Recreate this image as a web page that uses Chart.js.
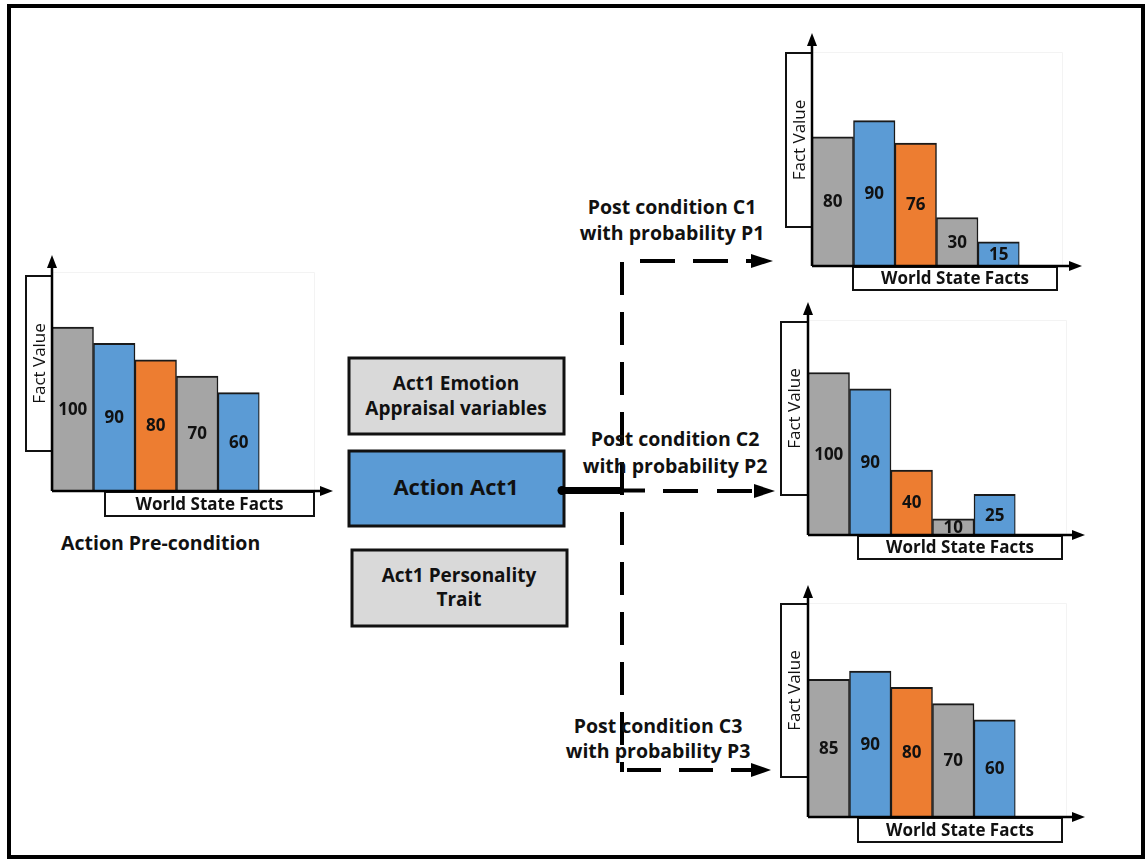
<!DOCTYPE html>
<html>
<head>
<meta charset="utf-8">
<script src="https://cdn.jsdelivr.net/npm/chart.js@4/dist/chart.umd.min.js"></script>
<style>
  html, body { margin: 0; padding: 0; background: #fff; }
  #page { position: relative; width: 1146px; height: 861px; overflow: hidden; font-family: "Open Sans", sans-serif; }
  #page svg { position: absolute; left: 0; top: 0; }
  #page canvas { position: absolute; }
  .lbl { font-family: "Open Sans", sans-serif; font-weight: 700; font-size: 19px; fill: #111; }
  .post { font-size: 19.5px; }
</style>
</head>
<body>
<div id="page">
  <svg width="1146" height="861">
    <!-- outer frame -->
    <rect x="9" y="6" width="1134" height="851" fill="none" stroke="#000" stroke-width="4"/>

    <text class="lbl" x="61" y="550" style="font-size:19.5px">Action Pre-condition</text>

    <!-- middle boxes -->
    <rect x="349" y="358" width="215" height="76" fill="#d9d9d9" stroke="#111" stroke-width="3"/>
    <text class="lbl" x="456" y="390" text-anchor="middle">Act1 Emotion</text>
    <text class="lbl" x="456" y="415" text-anchor="middle">Appraisal variables</text>

    <rect x="349" y="451" width="215" height="75" fill="#5b9bd5" stroke="#111" stroke-width="3"/>
    <text class="lbl" x="456" y="495" text-anchor="middle" style="font-size:22px">Action Act1</text>

    <rect x="352" y="550" width="215" height="76" fill="#d9d9d9" stroke="#111" stroke-width="3"/>
    <text class="lbl" x="459" y="582" text-anchor="middle">Act1 Personality</text>
    <text class="lbl" x="459" y="606" text-anchor="middle">Trait</text>

    <!-- connector from the action box -->
    <circle cx="562" cy="490.5" r="4.5" fill="#000"/>
    <line x1="562" y1="490.5" x2="621" y2="490.5" stroke="#000" stroke-width="7"/>
    <line x1="621" y1="490.5" x2="645" y2="490.5" stroke="#000" stroke-width="4"/>

    <!-- vertical dashed trunk -->
    <line x1="622" y1="262" x2="622" y2="772" stroke="#000" stroke-width="4" stroke-dasharray="33 17"/>

    <!-- branch arrows -->
    <line x1="640" y1="261" x2="752" y2="261" stroke="#000" stroke-width="4" stroke-dasharray="35 18"/>
    <polygon points="751,254 773,261 751,268" fill="#000"/>

    <line x1="663" y1="491" x2="754" y2="491" stroke="#000" stroke-width="4" stroke-dasharray="35 19"/>
    <polygon points="754,484 775,491 754,498" fill="#000"/>

    <line x1="627" y1="770" x2="752" y2="770" stroke="#000" stroke-width="4" stroke-dasharray="34 18"/>
    <polygon points="751,763 771,770 751,777" fill="#000"/>

    <text class="lbl post" x="672" y="214" text-anchor="middle">Post condition C1</text>
    <text class="lbl post" x="672" y="240" text-anchor="middle">with probability P1</text>
    <text class="lbl post" x="675" y="446" text-anchor="middle">Post condition C2</text>
    <text class="lbl post" x="675" y="473" text-anchor="middle">with probability P2</text>
    <text class="lbl post" x="658" y="733" text-anchor="middle">Post condition C3</text>
    <text class="lbl post" x="658" y="758" text-anchor="middle">with probability P3</text>
  </svg>
</div>

<script>
// data
const categories = ['Fact 1', 'Fact 2', 'Fact 3', 'Fact 4', 'Fact 5'];
const barColors = ['#a5a5a5', '#5b9bd5', '#ed7d31', '#a5a5a5', '#5b9bd5'];
const preValues = [100, 90, 80, 70, 60];
const c1Values = [80, 90, 76, 30, 15];
const c2Values = [100, 90, 40, 10, 25];
const c3Values = [85, 90, 80, 70, 60];
const yAxisTitle = 'Fact Value';
const xAxisTitle = 'World State Facts';

// where each little chart sits on the page (page pixels)
const BARS_W = 207.5;
const layouts = [
  { values: preValues, axisX: 52, axisY: 491, tipY: 255, tipX: 333, unit: 1.64,
    fv: [26, 276, 26, 175], wsf: [105, 492, 209, 24], frame: [314, 272] },
  { values: c1Values, axisX: 812, axisY: 266, tipY: 33, tipX: 1082, unit: 1.616,
    fv: [786, 53, 26, 174], wsf: [853, 267, 204, 23], frame: [1062, 52] },
  { values: c2Values, axisX: 808, axisY: 535, tipY: 302, tipX: 1085, unit: 1.625,
    fv: [781, 322, 27, 173], wsf: [858, 536, 204, 23], frame: [1066, 320] },
  { values: c3Values, axisX: 808, axisY: 817, tipY: 585, tipX: 1085, unit: 1.62,
    fv: [781, 604, 27, 173], wsf: [858, 818, 204, 24], frame: [1066, 603] }
];

// draws the axis arrows, title boxes and value labels
const decorPlugin = {
  id: 'decor',
  beforeDatasetsDraw(chart, args, opts) {
    const ctx = chart.ctx;
    const a = chart.chartArea;
    ctx.save();
    ctx.strokeStyle = '#f3f3f3';
    ctx.lineWidth = 1;
    ctx.beginPath();
    ctx.moveTo(a.left, opts.frame[1] - opts.oy + 0.5);
    ctx.lineTo(opts.frame[0] - opts.ox + 0.5, opts.frame[1] - opts.oy + 0.5);
    ctx.lineTo(opts.frame[0] - opts.ox + 0.5, a.bottom);
    ctx.stroke();
    ctx.restore();
  },
  afterDatasetsDraw(chart, args, opts) {
    const ctx = chart.ctx;
    const a = chart.chartArea;
    const ox = opts.ox, oy = opts.oy;
    ctx.save();

    // value labels in the middle of each bar
    const meta = chart.getDatasetMeta(0);
    ctx.fillStyle = '#111';
    ctx.font = 'bold 17px "Open Sans", sans-serif';
    ctx.textAlign = 'center';
    ctx.textBaseline = 'middle';
    meta.data.forEach(function(bar, i) {
      ctx.fillText(String(chart.data.datasets[0].data[i]), bar.x, (bar.y + bar.base) / 2 + 1);
    });

    // title boxes
    ctx.lineWidth = 2;
    ctx.strokeStyle = '#111';
    ctx.fillStyle = '#fff';
    const fv = opts.fv, wsf = opts.wsf;
    ctx.fillRect(fv[0] - ox, fv[1] - oy, fv[2], fv[3]);
    ctx.strokeRect(fv[0] - ox, fv[1] - oy, fv[2], fv[3]);
    ctx.fillRect(wsf[0] - ox, wsf[1] - oy, wsf[2], wsf[3]);
    ctx.strokeRect(wsf[0] - ox, wsf[1] - oy, wsf[2], wsf[3]);

    ctx.fillStyle = '#111';
    ctx.font = 'bold 17px "Open Sans", sans-serif';
    ctx.fillText(xAxisTitle, wsf[0] - ox + wsf[2] / 2, wsf[1] - oy + wsf[3] / 2 + 1);
    ctx.save();
    ctx.translate(fv[0] - ox + fv[2] / 2 + 1, fv[1] - oy + fv[3] / 2);
    ctx.rotate(-Math.PI / 2);
    ctx.font = '17px "Open Sans", sans-serif';
    ctx.fillText(yAxisTitle, 0, 0);
    ctx.restore();

    // axes with arrow heads
    const tipX = opts.tipX - ox;
    ctx.strokeStyle = '#000';
    ctx.fillStyle = '#000';
    ctx.lineWidth = 2.5;
    ctx.beginPath();
    ctx.moveTo(a.left, a.bottom);
    ctx.lineTo(a.left, a.top + 10);
    ctx.moveTo(a.left, a.bottom);
    ctx.lineTo(tipX - 10, a.bottom);
    ctx.stroke();
    ctx.beginPath();
    ctx.moveTo(a.left, a.top);
    ctx.lineTo(a.left - 5, a.top + 13);
    ctx.lineTo(a.left + 5, a.top + 13);
    ctx.closePath();
    ctx.fill();
    ctx.beginPath();
    ctx.moveTo(tipX, a.bottom);
    ctx.lineTo(tipX - 13, a.bottom - 5);
    ctx.lineTo(tipX - 13, a.bottom + 5);
    ctx.closePath();
    ctx.fill();
    ctx.restore();
  }
};

const page = document.getElementById('page');

layouts.forEach(function(L) {
  const left = L.fv[0] - 4;
  const top = L.tipY - 6;
  const right = L.tipX + 6;
  const bottom = L.wsf[1] + L.wsf[3] + 4;

  const canvas = document.createElement('canvas');
  canvas.width = right - left;
  canvas.height = bottom - top;
  canvas.style.left = left + 'px';
  canvas.style.top = top + 'px';
  page.appendChild(canvas);

  new Chart(canvas, {
    type: 'bar',
    data: {
      labels: categories,
      datasets: [{
        data: L.values,
        backgroundColor: barColors,
        borderColor: '#1a1a1a',
        borderWidth: { top: 2, left: 1.5, right: 1.5, bottom: 0 },
        borderSkipped: false,
        barPercentage: 1,
        categoryPercentage: 1
      }]
    },
    options: {
      responsive: false,
      animation: false,
      layout: {
        padding: {
          left: L.axisX - left,
          top: L.tipY - top,
          right: right - (L.axisX + BARS_W),
          bottom: bottom - L.axisY
        }
      },
      scales: {
        x: { display: false },
        y: { display: false, min: 0, max: (L.axisY - L.tipY) / L.unit }
      },
      plugins: {
        legend: { display: false },
        tooltip: { enabled: false },
        decor: { ox: left, oy: top, fv: L.fv, wsf: L.wsf, frame: L.frame, tipX: L.tipX }
      }
    },
    plugins: [decorPlugin]
  });
});
</script>
</body>
</html>
